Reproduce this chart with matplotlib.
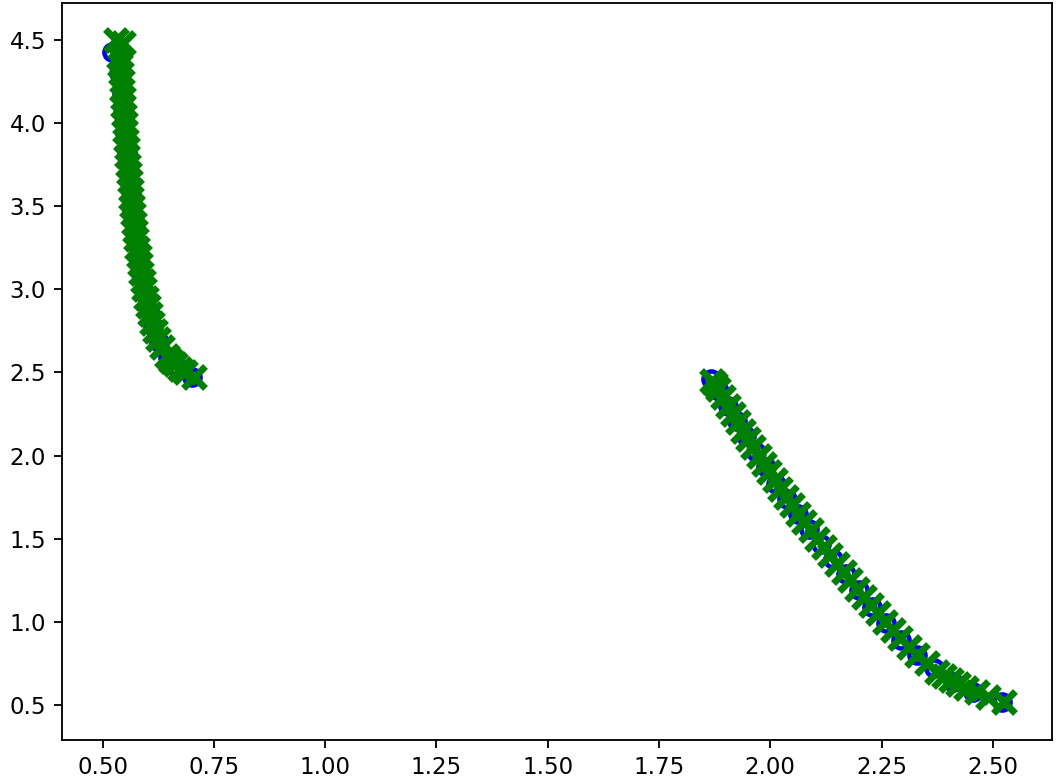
import numpy as np
import matplotlib
matplotlib.use("Agg")
import matplotlib.pyplot as plt

# left group (x, y) - green crosses
left_x = [0.530, 0.545, 0.537, 0.540, 0.541, 0.543, 0.544, 0.546, 0.547, 0.548,
          0.550, 0.551, 0.553, 0.555, 0.556, 0.558, 0.559, 0.561, 0.563, 0.565,
          0.567, 0.569, 0.571, 0.573, 0.576, 0.578, 0.581, 0.584, 0.587, 0.590,
          0.594, 0.598, 0.602, 0.606, 0.611, 0.617, 0.624, 0.633, 0.645, 0.653,
          0.662, 0.673, 0.685, 0.705]
left_y = [4.50, 4.48, 4.40, 4.35, 4.30, 4.25, 4.20, 4.15, 4.10, 4.05,
          4.00, 3.95, 3.90, 3.85, 3.80, 3.75, 3.70, 3.65, 3.60, 3.55,
          3.50, 3.45, 3.40, 3.35, 3.30, 3.25, 3.20, 3.15, 3.10, 3.05,
          3.00, 2.95, 2.90, 2.85, 2.80, 2.75, 2.70, 2.65, 2.60, 2.57,
          2.55, 2.52, 2.50, 2.47]

# left group - blue circles
left_bx = [0.522, 0.538, 0.543, 0.547, 0.551, 0.555, 0.559, 0.563, 0.567, 0.572,
           0.577, 0.583, 0.589, 0.596, 0.604, 0.613, 0.626, 0.648, 0.668, 0.700]
left_by = [4.43, 4.30, 4.18, 4.06, 3.94, 3.82, 3.70, 3.59, 3.48, 3.37,
           3.27, 3.17, 3.07, 2.97, 2.87, 2.78, 2.68, 2.59, 2.53, 2.47]

# right group - green crosses
right_x = [1.870, 1.876, 1.882, 1.893, 1.905, 1.916, 1.928, 1.939, 1.950, 1.962,
           1.974, 1.986, 1.998, 2.010, 2.022, 2.035, 2.048, 2.062, 2.076, 2.091,
           2.106, 2.120, 2.135, 2.150, 2.165, 2.180, 2.196, 2.211, 2.227, 2.242,
           2.258, 2.275, 2.292, 2.311, 2.330, 2.352, 2.375, 2.390, 2.405, 2.422,
           2.440, 2.465, 2.490, 2.525]
right_y = [2.45, 2.43, 2.40, 2.35, 2.30, 2.25, 2.20, 2.15, 2.10, 2.05,
           2.00, 1.95, 1.90, 1.85, 1.80, 1.75, 1.70, 1.65, 1.60, 1.55,
           1.50, 1.45, 1.40, 1.35, 1.30, 1.25, 1.20, 1.15, 1.10, 1.05,
           1.00, 0.95, 0.90, 0.85, 0.80, 0.75, 0.70, 0.675, 0.65, 0.625,
           0.60, 0.575, 0.55, 0.52]

# right group - blue circles
right_bx = [1.868, 1.885, 1.905, 1.925, 1.946, 1.968, 1.990, 2.013, 2.037, 2.062,
            2.088, 2.115, 2.142, 2.170, 2.199, 2.229, 2.260, 2.293, 2.329, 2.368,
            2.410, 2.455, 2.520]
right_by = [2.46, 2.39, 2.30, 2.21, 2.12, 2.02, 1.93, 1.83, 1.74, 1.65,
            1.56, 1.47, 1.38, 1.29, 1.19, 1.09, 0.99, 0.89, 0.80, 0.72,
            0.64, 0.58, 0.52]

fig = plt.figure(figsize=(1058 / 165, 783 / 165), dpi=165)
ax = fig.add_axes([62 / 1058, 43 / 783, 990 / 1058, 737 / 783])

ax.plot(left_bx + right_bx, left_by + right_by, 'o', mfc='none', mec='b', mew=2, ms=7)
ax.plot(left_x + right_x, left_y + right_y, 'x', color='g', mew=3, ms=9.5)

ax.set_xlim(0.409, 2.633)
ax.set_ylim(0.289, 4.722)
ax.set_xticks([0.5, 0.75, 1.0, 1.25, 1.5, 1.75, 2.0, 2.25, 2.5])
ax.set_yticks([0.5, 1.0, 1.5, 2.0, 2.5, 3.0, 3.5, 4.0, 4.5])

fig.savefig("out.png", dpi=165)
